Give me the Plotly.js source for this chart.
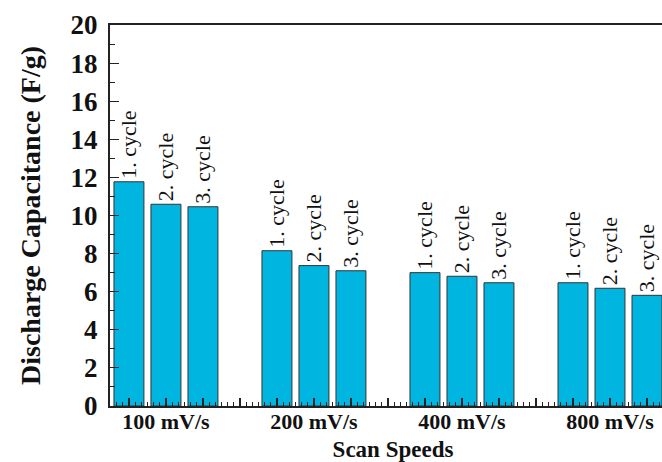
<!DOCTYPE html>
<html>
<head>
<meta charset="utf-8">
<script src="https://cdn.plot.ly/plotly-3.0.1.min.js"></script>
<style>
html, body { margin:0; padding:0; overflow:hidden; background:#fff; }
#chart { width:680px; height:462px; }
</style>
</head>
<body>
<div id="chart"></div>
<script>
var speeds = ['100 mV/s', '200 mV/s', '400 mV/s', '800 mV/s'];
var cycleNames = ['1. cycle', '2. cycle', '3. cycle'];
var cycle1 = [11.77, 8.15, 7.00, 6.47];
var cycle2 = [10.59, 7.37, 6.81, 6.18];
var cycle3 = [10.46, 7.10, 6.47, 5.81];
var series = [cycle1, cycle2, cycle3];

var serif = '"Liberation Serif", "Times New Roman", serif';
var barColor = 'rgb(0,182,224)';

var traces = series.map(function (vals, i) {
  return {
    type: 'bar',
    name: cycleNames[i],
    x: speeds,
    y: vals,
    text: speeds.map(function () { return cycleNames[i]; }),
    textposition: 'outside',
    textangle: -90,
    constraintext: 'none',
    cliponaxis: false,
    outsidetextfont: { family: serif, size: 22, color: '#111' },
    textfont: { family: serif, size: 22, color: '#111' },
    marker: { color: barColor, line: { color: '#333', width: 1 } },
    hoverinfo: 'skip'
  };
});
// invisible trace that carries the minor-tick axis
traces.push({ type: 'scatter', x: [], y: [], xaxis: 'x2', yaxis: 'y', showlegend: false, hoverinfo: 'skip' });

var layout = {
  width: 680, height: 462,
  margin: { l: 110, r: 4, t: 25, b: 56 },
  paper_bgcolor: '#fff', plot_bgcolor: '#fff',
  showlegend: false,
  barmode: 'group',
  bargap: 0.25,
  bargroupgap: 0.19,
  xaxis: {
    type: 'category',
    range: [-0.378, 3.446],
    showline: true, mirror: true, linecolor: '#222', linewidth: 2,
    ticks: '', showgrid: false, zeroline: false,
    ticklabelstandoff: -5,
    tickfont: { family: serif, size: 22, color: '#111', weight: 'bold' },
    title: { text: 'Scan Speeds', font: { family: serif, size: 23, color: '#111', weight: 'bold' }, standoff: 23 }
  },
  xaxis2: {
    overlaying: 'x', anchor: 'y', side: 'bottom',
    type: 'linear',
    range: [-0.512, 14.784],
    showticklabels: false, showline: false, showgrid: false, zeroline: false,
    ticks: 'inside', tick0: 0, dtick: 1, ticklen: 8, tickwidth: 1.2, tickcolor: '#222',
    minor: { ticks: 'inside', dtick: 1/6, ticklen: 4, tickwidth: 1, tickcolor: '#222', showgrid: false }
  },
  yaxis: {
    range: [0, 20], dtick: 2, tick0: 0,
    showline: true, linecolor: '#222', linewidth: 2,
    ticks: 'inside', ticklen: 9, tickwidth: 1.2, tickcolor: '#222',
    minor: { ticks: 'inside', dtick: 1, ticklen: 5, tickwidth: 1, tickcolor: '#222', showgrid: false },
    showgrid: false, zeroline: false,
    ticklabelstandoff: 5,
    tickfont: { family: serif, size: 27, color: '#111', weight: 'bold' },
    title: { text: 'Discharge Capacitance (F/g)', font: { family: serif, size: 28, color: '#111', weight: 'bold' }, standoff: 22 }
  }
};

Plotly.newPlot('chart', traces, layout, { displayModeBar: false, staticPlot: true });
</script>
</body>
</html>
